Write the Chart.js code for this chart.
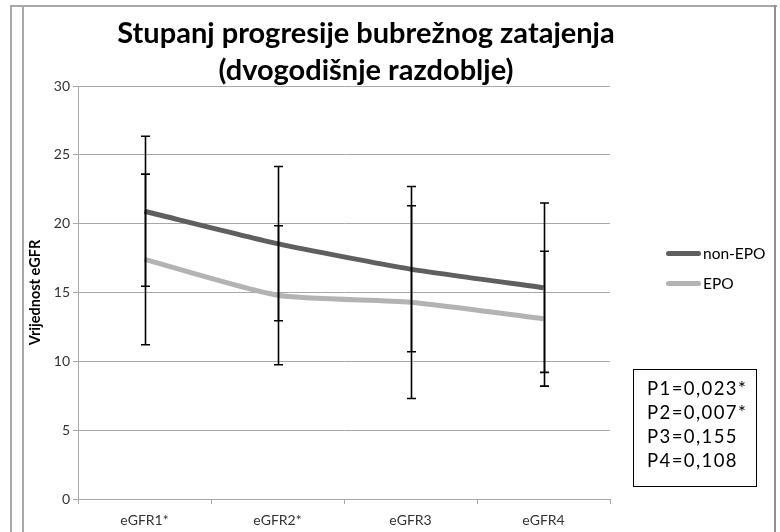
<!DOCTYPE html>
<html><head><meta charset="utf-8">
<script src="https://cdn.jsdelivr.net/npm/chart.js@4.4.1/dist/chart.umd.min.js"></script>
<style>
html,body{margin:0;padding:0;background:#fff;}
#wrap{position:relative;width:780px;height:532px;overflow:hidden;font-family:Lato,sans-serif;background:#fff;}
#c{position:absolute;left:0;top:0;}
.ln{position:absolute;background:#a8a8a8;}
#title{position:absolute;left:0px;width:732px;top:13px;text-align:center;font-weight:bold;font-size:29px;line-height:37px;color:#000;white-space:nowrap;}
.leg{position:absolute;left:666px;height:16px;font-size:15.5px;color:#000;}
.leg span.sw{position:absolute;left:0;top:5px;width:35px;height:5px;border-radius:3px;}
.leg span.tx{position:absolute;left:37px;top:-2px;white-space:nowrap;}
#pbox{position:absolute;left:633px;top:369px;width:122px;height:116px;border:1px solid #000;font-size:18.5px;letter-spacing:1.4px;color:#000;}
#pbox div{position:absolute;left:13px;white-space:nowrap;}
</style></head><body>
<div id="wrap">
<canvas id="c" width="780" height="532"></canvas>
<div class="ln" style="left:10px;top:5px;width:2px;height:527px;"></div>
<div class="ln" style="left:22px;top:5px;width:2px;height:527px;"></div>
<div class="ln" style="left:10px;top:5px;width:767px;height:2px;"></div>
<div class="ln" style="left:774px;top:5px;width:2px;height:527px;background:#909090;"></div>
<div id="title"></div>
<div id="legend"></div>
<div id="pbox"></div>
</div>
<script>
const titleLines = ['Stupanj progresije bubrežnog zatajenja', '(dvogodišnje razdoblje)'];
const categories = ['eGFR1*', 'eGFR2*', 'eGFR3', 'eGFR4'];
const seriesNames = ['non-EPO', 'EPO'];
const nonEpoMean = [20.9, 18.55, 16.7, 15.35];
const nonEpoSD = [5.45, 5.6, 6.0, 6.15];
const epoMean = [17.4, 14.8, 14.3, 13.1];
const epoSD = [6.2, 5.05, 7.0, 4.9];
const yMin = 0, yMax = 30, yStep = 5;
const yAxisTitle = 'Vrijednost eGFR';
const pValues = ['P1=0,023*', 'P2=0,007*', 'P3=0,155', 'P4=0,108'];
const colors = ['#5f5f5f', '#b3b3b3'];

document.getElementById('title').innerHTML = titleLines.join('<br>');
const legEl = document.getElementById('legend');
seriesNames.forEach((n, i) => {
  const d = document.createElement('div');
  d.className = 'leg';
  d.style.top = (246 + i * 30) + 'px';
  d.innerHTML = '<span class="sw" style="background:' + colors[i] + '"></span><span class="tx">' + n + '</span>';
  legEl.appendChild(d);
});
const pEl = document.getElementById('pbox');
pValues.forEach((p, i) => {
  const d = document.createElement('div');
  d.style.top = (7 + i * 24) + 'px';
  d.textContent = p;
  pEl.appendChild(d);
});

const errorBars = {
  id: 'errorBars',
  afterDatasetsDraw(chart) {
    const ctx = chart.ctx;
    const xs = chart.scales.x, ys = chart.scales.y;
    const sets = [[nonEpoMean, nonEpoSD], [epoMean, epoSD]];
    ctx.save();
    ctx.strokeStyle = '#000';
    ctx.lineWidth = 1.6;
    sets.forEach(([m, s]) => {
      m.forEach((v, i) => {
        const x = Math.round(xs.getPixelForValue(i)) + 0.5;
        const yt = ys.getPixelForValue(v + s[i]);
        const yb = ys.getPixelForValue(v - s[i]);
        ctx.beginPath();
        ctx.moveTo(x, yt); ctx.lineTo(x, yb);
        ctx.moveTo(x - 4.5, yt); ctx.lineTo(x + 4.5, yt);
        ctx.moveTo(x - 4.5, yb); ctx.lineTo(x + 4.5, yb);
        ctx.stroke();
      });
    });
    ctx.restore();
  }
};

const tickFont = {family: 'Lato', size: 14};
new Chart(document.getElementById('c'), {
  type: 'line',
  data: {
    labels: categories,
    datasets: [
      {label: seriesNames[0], data: nonEpoMean, borderColor: colors[0], borderWidth: 5, pointRadius: 0, tension: 0.2, fill: false},
      {label: seriesNames[1], data: epoMean, borderColor: colors[1], borderWidth: 5, pointRadius: 0, tension: 0.2, fill: false}
    ]
  },
  options: {
    responsive: false,
    animation: false,
    devicePixelRatio: 1,
    layout: {padding: {left: 24, right: 170, top: 86, bottom: 0}},
    plugins: {legend: {display: false}, title: {display: false}, tooltip: {enabled: false}},
    scales: {
      x: {
        offset: true,
        grid: {offset: true, drawOnChartArea: false, drawTicks: true, tickLength: 5, color: '#a8a8a8'},
        border: {display: true, color: '#a8a8a8'},
        ticks: {font: tickFont, color: '#333', padding: 8, maxRotation: 0},
        afterFit(s) { s.height = 33; }
      },
      y: {
        min: yMin, max: yMax,
        ticks: {stepSize: yStep, font: tickFont, color: '#333', padding: 3},
        grid: {color: '#a8a8a8', tickLength: 5, drawTicks: true},
        border: {display: true, color: '#a8a8a8'},
        title: {display: true, text: yAxisTitle, font: {family: 'Lato', size: 14.5, weight: 'bold'}, color: '#000', padding: {top: 3, bottom: 4}},
        afterFit(s) { s.width = 54; }
      }
    }
  },
  plugins: [errorBars]
});
</script>
</body></html>
